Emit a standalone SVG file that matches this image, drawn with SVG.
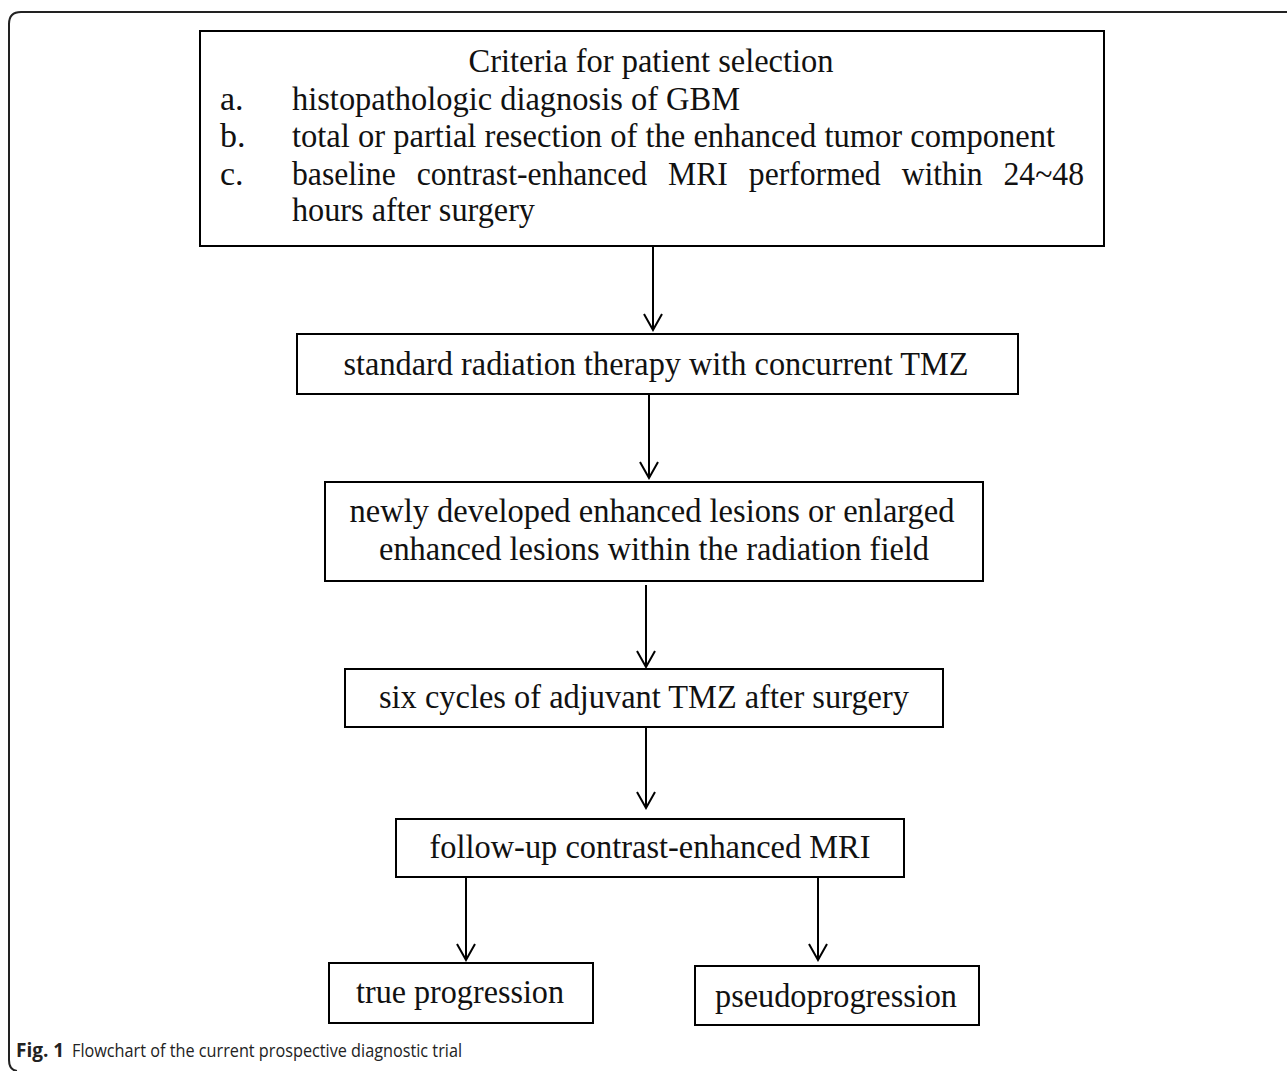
<svg xmlns="http://www.w3.org/2000/svg" width="1287" height="1071" viewBox="0 0 1287 1071">
<defs>
<style>
.box{fill:#fff;stroke:#000;stroke-width:2}
.t{font-family:"Liberation Serif","Times New Roman",serif;font-size:34px;fill:#111}
.c{text-anchor:middle}
.edge{stroke:#000;stroke-width:2;fill:none;marker-end:url(#arr)}
.cap{font-family:"Open Sans","Noto Sans",sans-serif;font-size:19px;fill:#222}
</style>
<marker id="arr" viewBox="0 0 20 20" refX="18" refY="10" markerWidth="20" markerHeight="20" markerUnits="userSpaceOnUse" orient="auto">
<path d="M2,1 L18,10 L2,19" fill="none" stroke="#000" stroke-width="2"/>
</marker>
</defs>
<rect width="1287" height="1071" fill="#fff"/>
<path d="M1287,12 H21 Q9,12 9,24 V1060 Q9,1070 17,1071" fill="none" stroke="#222" stroke-width="2"/>

<g id="connectors">
<line class="edge" x1="653" y1="246" x2="653" y2="330"/>
<line class="edge" x1="649" y1="394" x2="649" y2="478"/>
<line class="edge" x1="646" y1="585" x2="646" y2="667"/>
<line class="edge" x1="646" y1="727" x2="646" y2="808"/>
<line class="edge" x1="466" y1="877" x2="466" y2="960"/>
<line class="edge" x1="818" y1="877" x2="818" y2="960"/>
</g>

<g id="criteria">
<rect class="box" x="200" y="31" width="904" height="215"/>
<text class="t c" x="651" y="72" textLength="365" lengthAdjust="spacingAndGlyphs">Criteria for patient selection</text>
<text class="t" x="220" y="110">a.</text>
<text class="t" x="292" y="110" textLength="448" lengthAdjust="spacingAndGlyphs">histopathologic diagnosis of GBM</text>
<text class="t" x="220" y="147">b.</text>
<text class="t" x="292" y="147" textLength="763" lengthAdjust="spacingAndGlyphs">total or partial resection of the enhanced tumor component</text>
<text class="t" x="220" y="185">c.</text>
<text class="t" x="292" y="185" word-spacing="14" textLength="792" lengthAdjust="spacingAndGlyphs">baseline contrast-enhanced MRI performed within 24~48</text>
<text class="t" x="292" y="221" textLength="243" lengthAdjust="spacingAndGlyphs">hours after surgery</text>
</g>

<g id="radiation">
<rect class="box" x="297" y="334" width="721" height="60"/>
<text class="t c" x="656" y="375" textLength="625" lengthAdjust="spacingAndGlyphs">standard radiation therapy with concurrent TMZ</text>
</g>

<g id="lesions">
<rect class="box" x="325" y="482" width="658" height="99"/>
<text class="t c" x="652" y="522" textLength="605" lengthAdjust="spacingAndGlyphs">newly developed enhanced lesions or enlarged</text>
<text class="t c" x="654" y="560" textLength="550" lengthAdjust="spacingAndGlyphs">enhanced lesions within the radiation field</text>
</g>

<g id="adjuvant">
<rect class="box" x="345" y="669" width="598" height="58"/>
<text class="t c" x="644" y="708" textLength="530" lengthAdjust="spacingAndGlyphs">six cycles of adjuvant TMZ after surgery</text>
</g>

<g id="followup">
<rect class="box" x="396" y="819" width="508" height="58"/>
<text class="t c" x="650" y="858" textLength="441" lengthAdjust="spacingAndGlyphs">follow-up contrast-enhanced MRI</text>
</g>

<g id="true">
<rect class="box" x="329" y="963" width="264" height="60"/>
<text class="t c" x="460" y="1003" textLength="208" lengthAdjust="spacingAndGlyphs">true progression</text>
</g>

<g id="pseudo">
<rect class="box" x="695" y="966" width="284" height="59"/>
<text class="t c" x="836" y="1007" textLength="242" lengthAdjust="spacingAndGlyphs">pseudoprogression</text>
</g>

<g id="caption">
<text class="cap" x="16" y="1057" font-weight="bold">Fig. 1</text>
<text class="cap" x="72" y="1057" textLength="390" lengthAdjust="spacingAndGlyphs">Flowchart of the current prospective diagnostic trial</text>
</g>
</svg>
